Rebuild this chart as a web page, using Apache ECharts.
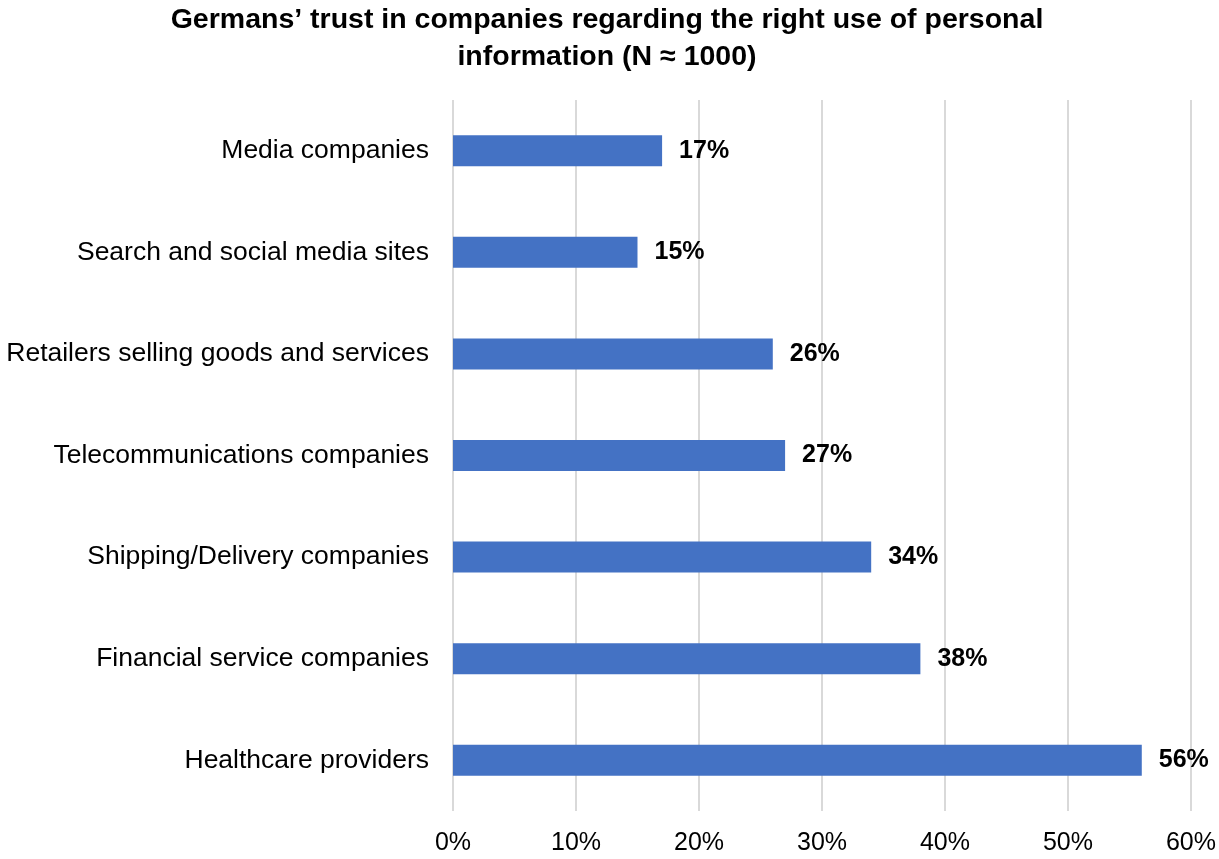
<!DOCTYPE html>
<html>
<head>
<meta charset="utf-8">
<script src="https://cdn.jsdelivr.net/npm/echarts@6/dist/echarts.min.js"></script>
<style>
  html, body { margin: 0; padding: 0; background: #ffffff; }
  #chart { width: 1219px; height: 859px; }
</style>
</head>
<body>
<div id="chart"></div>
<script>
// Survey categories, top to bottom
const categories = [
  'Media companies',
  'Search and social media sites',
  'Retailers selling goods and services',
  'Telecommunications companies',
  'Shipping/Delivery companies',
  'Financial service companies',
  'Healthcare providers'
];
// Share of respondents who trust each kind of company (%)
const trustShare = [17, 15, 26, 27, 34, 38, 56];
// Value axis ticks (%)
const tickValues = [0, 10, 20, 30, 40, 50, 60];

const FONT = '"Liberation Sans", Arial, sans-serif';

const chart = echarts.init(document.getElementById('chart'), null, { renderer: 'canvas' });
chart.setOption({
  backgroundColor: '#ffffff',
  animation: false,
  title: {
    text: 'Germans\u2019 trust in companies regarding the right use of personal\ninformation (N \u2248 1000)',
    left: 602,
    textAlign: 'center',
    top: -3,
    textStyle: {
      fontFamily: FONT,
      fontWeight: 'bold',
      fontSize: 28.5,
      lineHeight: 37,
      color: '#000000'
    }
  },
  grid: { left: 453, right: 27, top: 100, bottom: 48, containLabel: false },
  xAxis: {
    type: 'value',
    min: tickValues[0],
    max: tickValues[tickValues.length - 1],
    interval: tickValues[1] - tickValues[0],
    axisLine: { show: false },
    axisTick: { show: false },
    axisLabel: {
      formatter: '{value}%',
      fontFamily: FONT,
      fontSize: 25,
      color: '#000000',
      margin: 20
    },
    splitLine: { show: true, lineStyle: { color: '#d9d9d9', width: 2 } }
  },
  yAxis: {
    type: 'category',
    data: categories,
    inverse: true,
    axisLine: { show: false },
    axisTick: { show: false },
    axisLabel: {
      fontFamily: FONT,
      fontSize: 26.5,
      color: '#000000',
      margin: 24
    }
  },
  series: [{
    type: 'bar',
    data: trustShare,
    barWidth: 31,
    itemStyle: { color: '#4472C4' },
    label: {
      show: true,
      position: 'right',
      distance: 17,
      formatter: '{c}%',
      fontFamily: FONT,
      fontWeight: 'bold',
      fontSize: 25,
      color: '#000000'
    }
  }]
});
</script>
</body>
</html>
